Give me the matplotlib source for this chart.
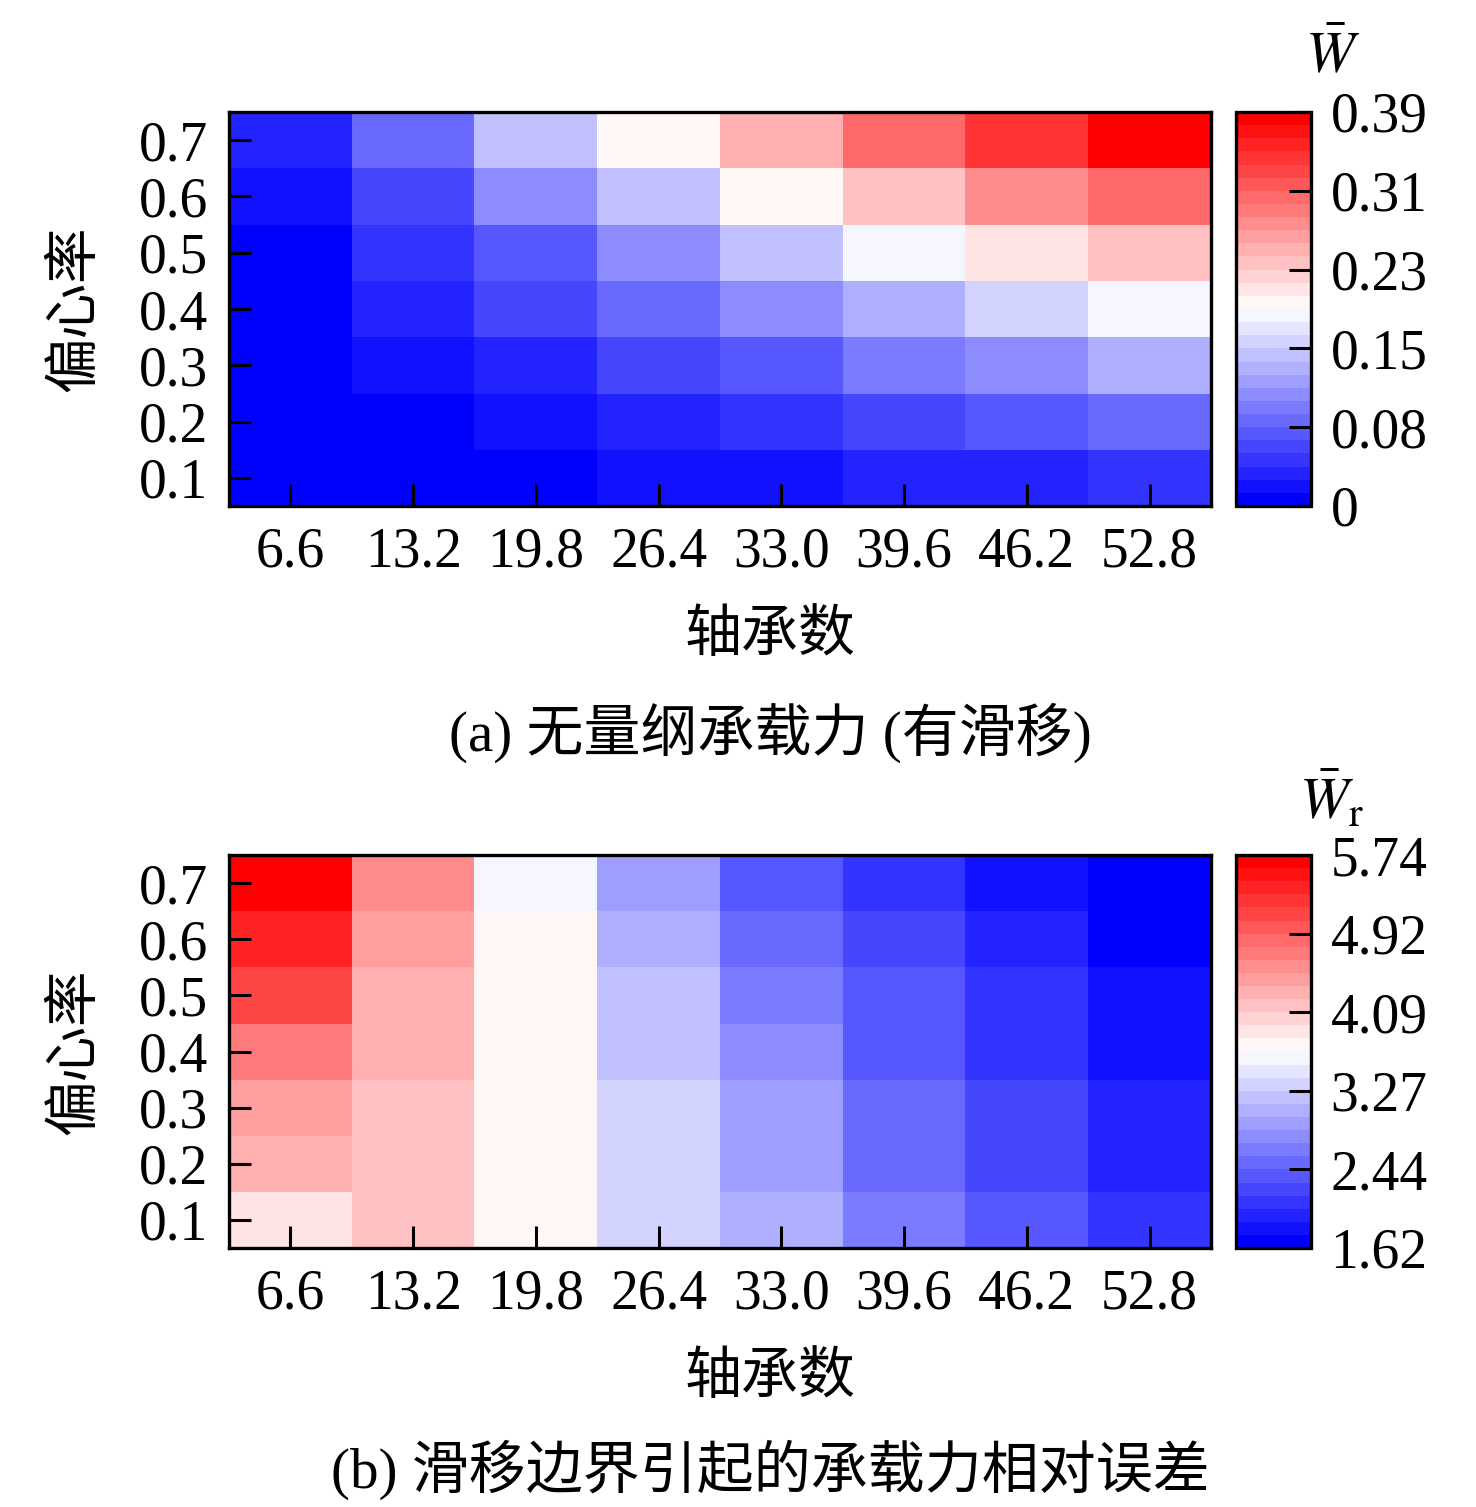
import numpy as np
import matplotlib
matplotlib.use("Agg")
import matplotlib.pyplot as plt

plt.rcParams['font.family'] = ['Liberation Serif', 'Noto Sans CJK SC']
plt.rcParams['mathtext.fontset'] = 'stix'

# axes labels / ticks
bearing_num = ['6.6', '13.2', '19.8', '26.4', '33.0', '39.6', '46.2', '52.8']
ecc = ['0.1', '0.2', '0.3', '0.4', '0.5', '0.6', '0.7']

# (a) dimensionless load capacity with slip, rows ecc 0.1 -> 0.7
W_slip = np.array([
    [0.000, 0.000, 0.007, 0.020, 0.020, 0.033, 0.033, 0.046],
    [0.000, 0.007, 0.020, 0.033, 0.046, 0.059, 0.072, 0.085],
    [0.007, 0.020, 0.033, 0.059, 0.072, 0.098, 0.111, 0.137],
    [0.007, 0.033, 0.059, 0.085, 0.111, 0.137, 0.163, 0.189],
    [0.007, 0.046, 0.072, 0.111, 0.150, 0.189, 0.215, 0.241],
    [0.020, 0.059, 0.111, 0.150, 0.202, 0.241, 0.280, 0.306],
    [0.033, 0.085, 0.150, 0.202, 0.254, 0.306, 0.345, 0.390],
])
W_ticks = ['0', '0.08', '0.15', '0.23', '0.31', '0.39']

# (b) relative error of load capacity caused by slip boundary
W_err = np.array([
    [3.89, 4.16, 3.75, 3.34, 3.06, 2.65, 2.38, 2.10],
    [4.30, 4.16, 3.75, 3.34, 2.92, 2.51, 2.24, 1.96],
    [4.44, 4.16, 3.75, 3.34, 2.92, 2.51, 2.24, 1.96],
    [4.71, 4.30, 3.75, 3.20, 2.79, 2.38, 2.10, 1.83],
    [5.12, 4.30, 3.75, 3.20, 2.65, 2.38, 2.10, 1.83],
    [5.40, 4.44, 3.75, 3.06, 2.51, 2.24, 1.96, 1.62],
    [5.74, 4.57, 3.61, 2.92, 2.38, 2.10, 1.83, 1.62],
])
E_ticks = ['1.62', '2.44', '3.27', '4.09', '4.92', '5.74']

cmap = plt.get_cmap('bwr', 30)
fs = 40
W = 1476
H = 1507


def fx(px):
    return px / W


def fy(py):
    return 1 - py / H


def draw(data, vmin, vmax, cticks, y_top, y_bot, ctitle, caption, cap_y):
    ax = fig.add_axes([fx(229), fy(y_bot), fx(1211) - fx(229), fy(y_top) - fy(y_bot)])
    im = ax.imshow(data, cmap=cmap, vmin=vmin, vmax=vmax, origin='lower',
                   aspect='auto', interpolation='nearest',
                   extent=[0, len(bearing_num), 0, len(ecc)])
    ax.set_xticks(np.arange(len(bearing_num)) + 0.5)
    ax.set_xticklabels(bearing_num)
    ax.set_yticks(np.arange(len(ecc)) + 0.5)
    ax.set_yticklabels(ecc)
    ax.tick_params(direction='in', length=16, width=2.2, labelsize=fs)
    ax.tick_params(axis='x', pad=15)
    ax.tick_params(axis='y', pad=15)
    for s in ax.spines.values():
        s.set_linewidth(2.4)
    ax.set_ylabel('偏心率', fontsize=fs, labelpad=26)

    cax = fig.add_axes([fx(1236), fy(y_bot), fx(1311) - fx(1236), fy(y_top) - fy(y_bot)])
    cb = fig.colorbar(im, cax=cax)
    cb.set_ticks(np.linspace(vmin, vmax, 6))
    cb.set_ticklabels(cticks)
    cax.tick_params(direction='in', length=16, width=2.2, labelsize=fs, pad=14)
    cb.outline.set_linewidth(2.4)
    fig.text(fx(1332), fy(y_top - 55), ctitle, fontsize=fs + 2, ha='center', va='center')

    fig.text(fx(770), fy(y_bot + 131), '轴承数', fontsize=fs + 1, ha='center', va='center')
    fig.text(fx(770), fy(cap_y), caption, fontsize=fs + 1, ha='center', va='center')


fig = plt.figure(figsize=(14.76, 15.07), dpi=100)
draw(W_slip, 0, 0.39, W_ticks, 112, 506, r'$\bar{W}$', '(a) 无量纲承载力 (有滑移)', 733)
draw(W_err, 1.62, 5.74, E_ticks, 855, 1248, r'$\bar{W}_{\mathrm{r}}$',
     '(b) 滑移边界引起的承载力相对误差', 1470)
fig.savefig('out.png', dpi=100)
